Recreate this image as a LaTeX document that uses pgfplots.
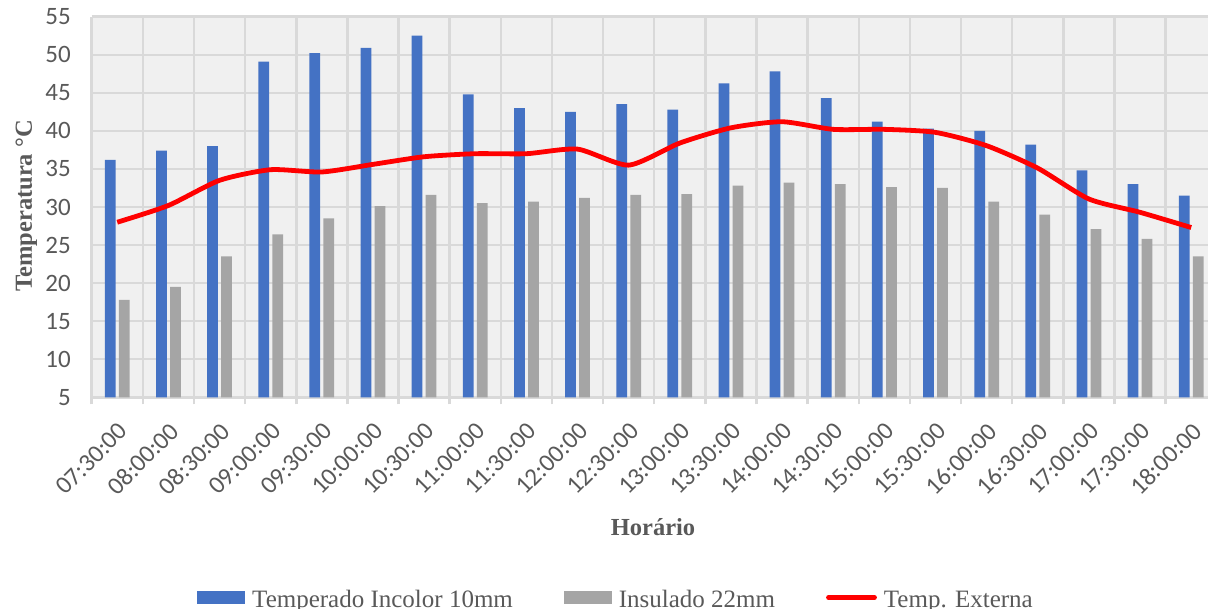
\documentclass[border=0pt]{standalone}
\usepackage{pgfplots}
\pgfplotsset{compat=1.18}
\usepackage{fontspec}
\setmainfont{Liberation Serif}
\newfontfamily\carlito{Carlito}
\definecolor{cblue}{HTML}{4472C4}
\definecolor{cgray}{HTML}{A5A5A5}
\definecolor{cgrid}{HTML}{D9D9D9}
\definecolor{ctext}{HTML}{595959}
\definecolor{cbg}{HTML}{F0F0F0}
\begin{document}
\begin{tikzpicture}
\begin{axis}[
  at={(91.7pt,211.7pt)}, anchor=south west,
  scale only axis, width=1125.1pt, height=380.6pt,
  xmin=-0.5, xmax=21.5, ymin=5, ymax=55,
  ytick={5,10,...,55},
  xtick={0,...,21},
  xticklabels={07:30:00,08:00:00,08:30:00,09:00:00,09:30:00,10:00:00,10:30:00,11:00:00,11:30:00,12:00:00,12:30:00,13:00:00,13:30:00,14:00:00,14:30:00,15:00:00,15:30:00,16:00:00,16:30:00,17:00:00,17:30:00,18:00:00},
  minor xtick={-0.5,0.5,...,21.5},
  xtick pos=lower, ytick pos=left,
  tick align=outside,
  major tick length=0pt, minor tick length=7pt,
  major tick style={draw=none},
  minor tick style={cgrid, line width=2.5pt},
  ymajorgrids, xminorgrids,
  major grid style={cgrid, line width=2.5pt},
  minor grid style={cgrid, line width=2.5pt},
  axis line style={draw=none},
  axis background/.style={fill=cbg},
  /pgf/number format/assume math mode=true,
  ticklabel style={font=\carlito\fontsize{25}{30}\selectfont, text=ctext},
  yticklabel style={anchor=east, inner sep=0pt, xshift=-20.7pt},
  xticklabel style={yshift=-23.7pt, rotate=45, anchor=north east, inner sep=0pt},
  xlabel={Horário},
  ylabel={Temperatura °C},
  label style={font=\bfseries\fontsize{24.5}{29}\selectfont, text=ctext},
  xlabel style={at={(axis description cs:0.4989,-0.3408)}, anchor=center},
  ylabel style={at={(axis description cs:-0.0580,0.5026)}, anchor=center},
  legend columns=3,
  legend style={at={(axis description cs:0.0936,-0.532)}, anchor=west,
    draw=none, fill=none, inner sep=0pt,
    font=\fontsize{25}{30}\selectfont, text=ctext,
    nodes={inner sep=0pt, anchor=base west},
    /tikz/every odd column/.append style={column sep=7pt},
    /tikz/every even column/.append style={column sep=51pt}},
]
\addplot[ybar, bar width=0.21, bar shift=-0.137, fill=cblue, draw=none,
  legend image code/.code={\fill[cblue] (0pt,4pt) rectangle (48pt,16.7pt);}]
  coordinates {(0,36.2) (1,37.4) (2,38.0) (3,49.1) (4,50.2) (5,50.9) (6,52.5) (7,44.8) (8,43.0) (9,42.5) (10,43.5) (11,42.8) (12,46.25) (13,47.8) (14,44.3) (15,41.2) (16,40.3) (17,40.0) (18,38.2) (19,34.8) (20,33.0) (21,31.5)};
\addlegendentry{Temperado Incolor 10mm}
\addplot[ybar, bar width=0.21, bar shift=0.137, fill=cgray, draw=none,
  legend image code/.code={\fill[cgray] (0pt,4pt) rectangle (48pt,16.7pt);}]
  coordinates {(0,17.8) (1,19.5) (2,23.5) (3,26.4) (4,28.5) (5,30.1) (6,31.6) (7,30.5) (8,30.7) (9,31.2) (10,31.6) (11,31.7) (12,32.8) (13,33.2) (14,33.0) (15,32.6) (16,32.5) (17,30.7) (18,29.0) (19,27.1) (20,25.8) (21,23.5)};
\addlegendentry{Insulado 22mm}
\addplot[red, line width=4.8pt, smooth, tension=0.4, mark=none,
  legend image code/.code={\draw[red, line width=4.8pt, line cap=round] (2pt,10.3pt) -- (48pt,10.3pt);}]
  coordinates {(0,28.0) (1,30.2) (2,33.5) (3,34.9) (4,34.6) (5,35.6) (6,36.6) (7,37.0) (8,37.0) (9,37.6) (10,35.5) (11,38.4) (12,40.4) (13,41.2) (14,40.2) (15,40.2) (16,39.8) (17,38.05) (18,35.1) (19,31.05) (20,29.3) (21,27.3)};
\addlegendentry{Temp. Externa}
\end{axis}
\pgfresetboundingbox
\useasboundingbox (0pt,0pt) rectangle (1208pt,609pt);
\end{tikzpicture}
\end{document}
